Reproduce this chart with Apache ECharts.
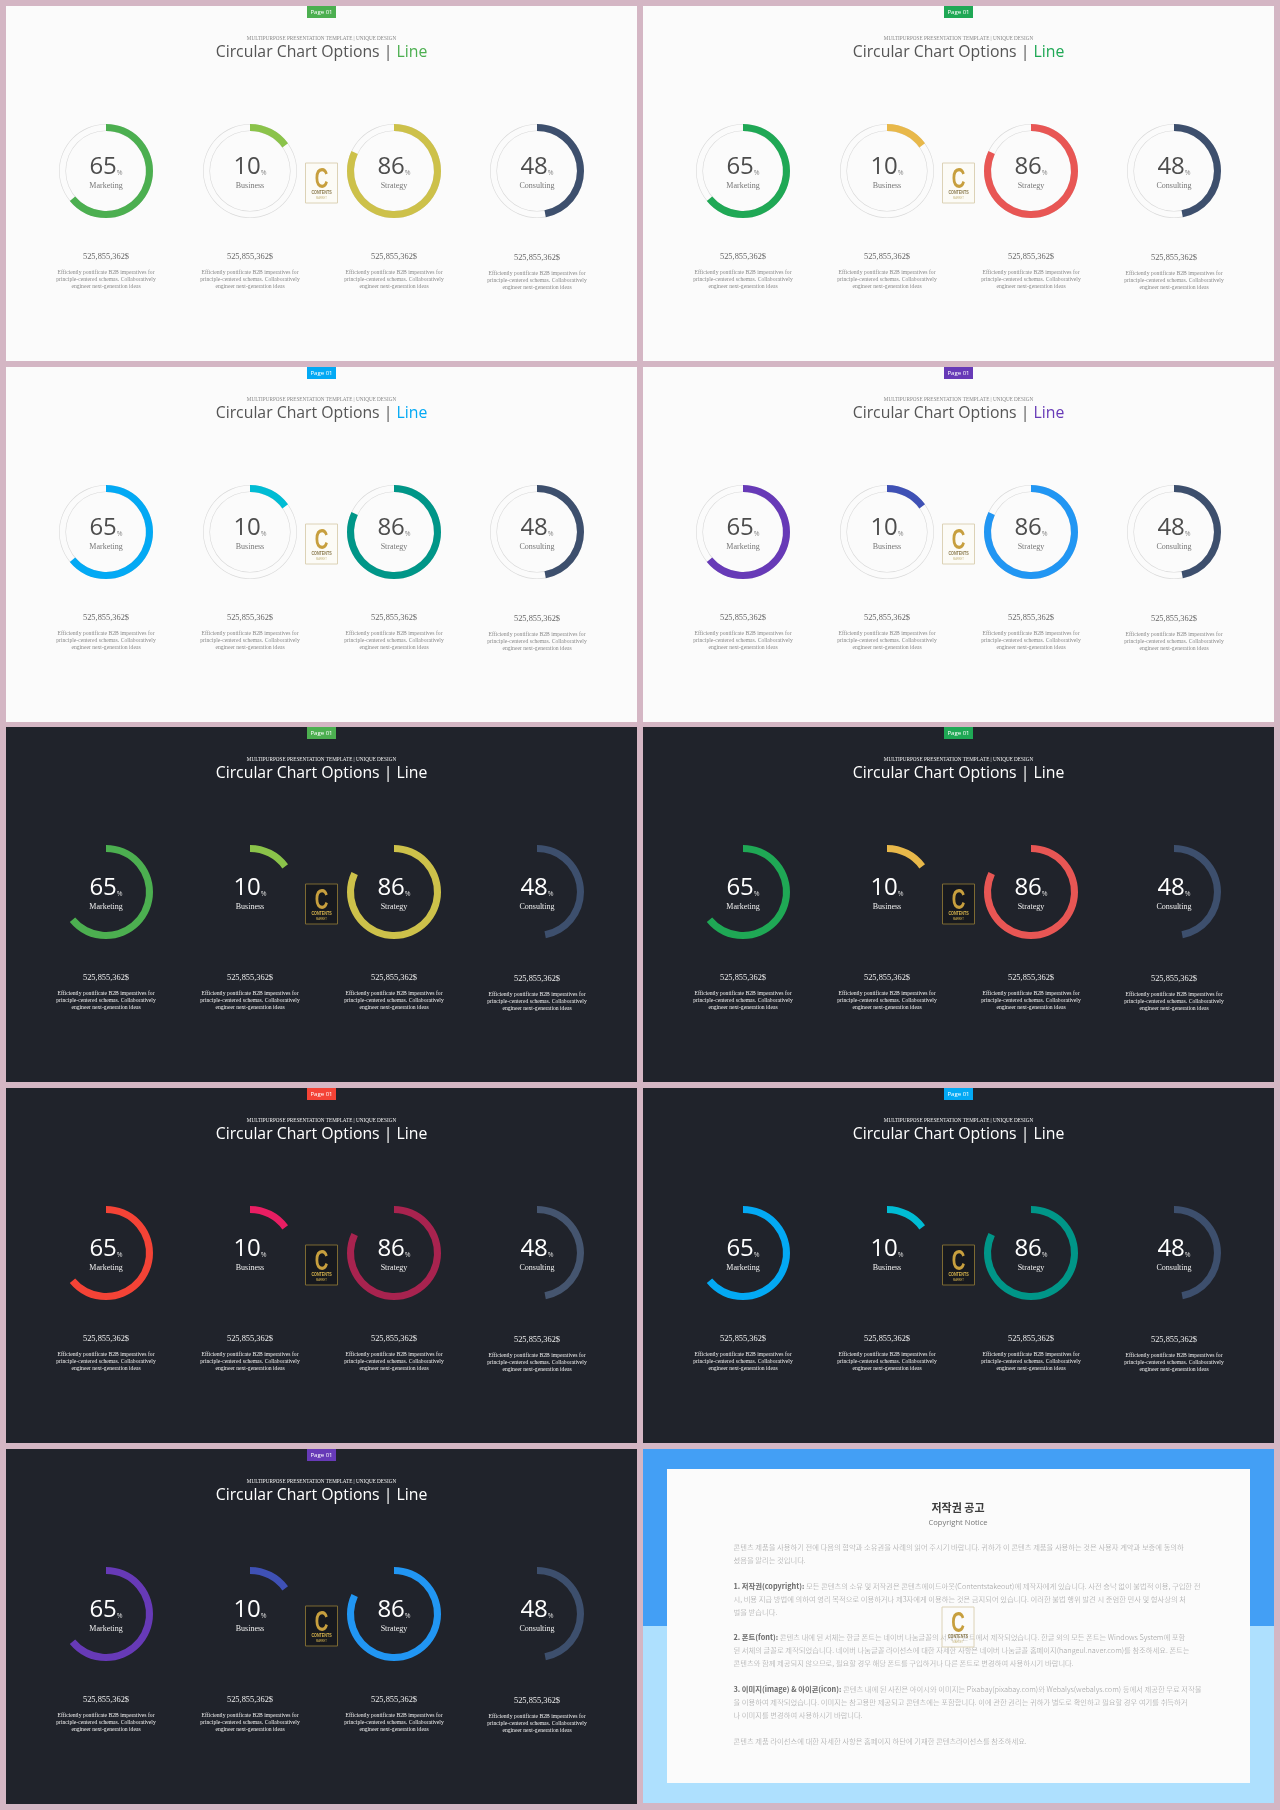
<!DOCTYPE html>
<html>
<head>
<meta charset="utf-8">
<style>
    html, body { margin: 0; padding: 0; background: #d4b6c4; }
    #main { width: 1280px; height: 1810px; }
</style>
<script src="https://cdn.jsdelivr.net/npm/echarts@6/dist/echarts.min.js"></script>
</head>
<body>
<div id="main"></div>
<script>
var categories = ['Marketing', 'Business', 'Strategy', 'Consulting'];
var values = [65, 10, 86, 48];
// the arcs in the picture do not follow their captions exactly, these are read off the rings
var arcValues = [64, 15, 82, 47];
var amounts = ['525,855,362$', '525,855,362$', '525,855,362$', '525,855,362$'];
var descLines = [
    'Efficiently pontificate B2B imperatives for',
    'principle-centered schemas. Collaboratively',
    'engineer next-generation ideas'
];
var subTitle = 'MULTIPURPOSE PRESENTATION TEMPLATE | UNIQUE DESIGN';
var titleMain = 'Circular Chart Options | ';
var titleLine = 'Line';
var pageLabel = 'Page 01';

// colours of the slides, one row = marketing, business, strategy, consulting, badge
var greenColors = ['#4caf50', '#8bc34a', '#cdc14a', '#3d4f6d', '#4caf50'];
var emeraldColors = ['#1fa855', '#e8b84a', '#e85654', '#3d4f6d', '#1fa855'];
var blueColors = ['#03a9f4', '#00bcd4', '#009688', '#3d4f6d', '#03a9f4'];
var purpleColors = ['#673ab7', '#3f51b5', '#2196f3', '#3d4f6d', '#673ab7'];
var redColors = ['#f44336', '#e91e63', '#a8234f', '#45556f', '#f44336'];

var noticeTitle = '저작권 공고';
var noticeSub = 'Copyright Notice';
var noticeLines = [
    ['', '콘텐츠 제품을 사용하기 전에 다음의 협약과 소유권을 사례의 읽어 주시기 바랍니다. 귀하가 이 콘텐츠 제품을 사용하는 것은 사용자 계약과 보증에 동의하'],
    ['', '셨음을 알리는 것입니다.'],
    null,
    ['1. 저작권(copyright):', ' 모든 콘텐츠의 소유 및 저작권은 콘텐츠에이드아웃(Contentstakeout)에 제작자에게 있습니다. 사전 승낙 없이 불법적 이용, 구입한 전'],
    ['', '시, 비용 지급 방법에 의하여 영리 목적으로 이용하거나 제3자에게 이용하는 것은 금지되어 있습니다. 이러한 불법 행위 발견 시 준엄한 민사 및 형사상의 처'],
    ['', '벌을 받습니다.'],
    null,
    ['2. 폰트(font):', ' 콘텐츠 내에 된 서체는 한글 폰트는 네이버 나눔글꼴의 서체와 폰트에서 제작되었습니다. 한글 외의 모든 폰트는 Windows System에 포함'],
    ['', '된 서체의 글꼴로 제작되었습니다. 네이버 나눔글꼴 라이선스에 대한 자세한 사항은 네이버 나눔글꼴 홈페이지(hangeul.naver.com)를 참조하세요. 폰트는'],
    ['', '콘텐츠와 함께 제공되지 않으므로, 필요할 경우 해당 폰트를 구입하거나 다른 폰트로 변경하여 사용하시기 바랍니다.'],
    null,
    ['3. 이미지(image) & 아이콘(icon):', ' 콘텐츠 내에 된 사진은 아이시와 이미지는 Pixabay(pixabay.com)와 Webalys(webalys.com) 등에서 제공한 무료 저작물'],
    ['', '을 이용하여 제작되었습니다. 이미지는 참고용만 제공되고 콘텐츠에는 포함합니다. 이에 관한 권리는 귀하가 별도로 확인하고 필요할 경우 여기를 취득하거'],
    ['', '나 이미지를 변경하여 사용하시기 바랍니다.'],
    null,
    ['', '콘텐츠 제품 라이선스에 대한 자세한 사항은 홈페이지 하단에 기재한 콘텐츠라이선스를 참조하세요.']
];

var panels = [
    { x: 6, y: 6, dark: false, colors: greenColors },
    { x: 643, y: 6, dark: false, colors: emeraldColors },
    { x: 6, y: 367, dark: false, colors: blueColors },
    { x: 643, y: 367, dark: false, colors: purpleColors },
    { x: 6, y: 727, dark: true, colors: greenColors },
    { x: 643, y: 727, dark: true, colors: emeraldColors },
    { x: 6, y: 1088, dark: true, colors: redColors },
    { x: 643, y: 1088, dark: true, colors: blueColors },
    { x: 6, y: 1449, dark: true, colors: purpleColors }
];

var PANEL_W = 631;
var PANEL_H = 355;
var RING_X = [100, 244, 388, 531];
var RING_Y = 165;
var SERIF = '"Liberation Serif", serif';
var SANS = '"Open Sans", sans-serif';
var KR = '"Noto Sans CJK KR", sans-serif';

var myChart = echarts.init(document.getElementById('main'), null, { renderer: 'canvas' });
var series = [];
var graphics = [];

function addText(x, y, text, font, size, color, extra) {
    graphics.push({
        type: 'text',
        x: x,
        y: y,
        silent: true,
        z: (extra && extra.z) || 5,
        style: Object.assign({
            text: text,
            font: size + 'px ' + font,
            fill: color,
            align: 'center',
            verticalAlign: 'middle'
        }, extra && extra.style)
    });
}

function addLogo(cx, top, mode) {
    var isDark = mode === 'dark';
    graphics.push({
        type: 'rect',
        silent: true,
        z: 6,
        shape: { x: cx - 16, y: top, width: 32, height: 40 },
        style: {
            fill: isDark ? '#17191e' : (mode === 'clear' ? 'rgba(255,255,255,0.15)' : '#fcfbf6'),
            stroke: isDark ? '#7d6a32' : '#dcd2b6',
            lineWidth: 1
        }
    });
    graphics.push({
        type: 'text', silent: true, z: 7, x: cx, y: top + 17, scaleX: 0.65,
        style: { text: 'C', font: 'bold 29px "Liberation Sans", sans-serif', fill: '#c79f3e', align: 'center', verticalAlign: 'middle' }
    });
    graphics.push({
        type: 'text', silent: true, z: 7, x: cx, y: top + 30, scaleX: 0.8,
        style: { text: 'CONTENTS', font: 'bold 4.6px "Liberation Sans", sans-serif', fill: isDark ? '#d9b54e' : '#8a7a4e', align: 'center', verticalAlign: 'middle' }
    });
    graphics.push({
        type: 'text', silent: true, z: 7, x: cx, y: top + 35,
        style: { text: 'MARKET', font: '2.6px "Liberation Sans", sans-serif', fill: isDark ? '#d9b54e' : '#c8b880', align: 'center', verticalAlign: 'middle' }
    });
}

panels.forEach(function (p) {
    var textColor = p.dark ? '#ffffff' : '#555555';
    var softColor = p.dark ? '#f0f0f0' : '#8a8a8a';
    graphics.push({
        type: 'rect',
        silent: true,
        z: 1,
        shape: { x: p.x, y: p.y, width: PANEL_W, height: PANEL_H },
        style: { fill: p.dark ? '#20232b' : '#fbfbfb' }
    });
    // page badge
    graphics.push({
        type: 'rect',
        silent: true,
        z: 2,
        shape: { x: p.x + 301, y: p.y, width: 29, height: 12 },
        style: { fill: p.colors[4] }
    });
    addText(p.x + 315.5, p.y + 6, pageLabel, SANS, 6, '#ffffff');
    addText(p.x + 315.5, p.y + 32.5, subTitle, SERIF, 5.2, softColor);
    addText(p.x + 315.5, p.y + 46, '{a|' + titleMain + '}{b|' + titleLine + '}', SANS, 15.8, textColor, {
        style: {
            rich: {
                a: { font: '15.8px ' + SANS, fill: textColor },
                b: { font: '15.8px ' + SANS, fill: p.dark ? '#ffffff' : p.colors[4] }
            }
        }
    });

    addLogo(p.x + 315.5, p.y + 157, p.dark ? 'dark' : 'light');

    categories.forEach(function (name, i) {
        var center = [p.x + RING_X[i], p.y + RING_Y];
        if (!p.dark) {
            [[46.4, 47], [40, 40.6]].forEach(function (r) {
                series.push({
                    type: 'pie',
                    silent: true,
                    z: 3,
                    animation: false,
                    center: center,
                    radius: r,
                    label: { show: false },
                    labelLine: { show: false },
                    emphasis: { disabled: true },
                    itemStyle: { color: '#d9d9d9' },
                    data: [{ value: 100 }]
                });
            });
        }
        series.push({
            type: 'pie',
            silent: true,
            z: 4,
            animation: false,
            center: center,
            radius: [40, 47],
            startAngle: 90,
            clockwise: true,
            emphasis: { disabled: true },
            labelLine: { show: false },
            label: { show: false },
            data: [
                {
                    name: name,
                    value: arcValues[i],
                    itemStyle: { color: p.colors[i] },
                    label: {
                        show: true,
                        position: 'center',
                        offset: [0, 1.2],
                        formatter: '{num|' + values[i] + '}{pct|%}\n{name|{b}}',
                        rich: {
                            num: { fontFamily: SANS, fontSize: 24, color: p.dark ? '#ffffff' : '#4d4d4d', height: 28, lineHeight: 28, verticalAlign: 'bottom' },
                            pct: { fontFamily: SANS, fontSize: 7, color: p.dark ? '#dddddd' : '#888888', verticalAlign: 'bottom', padding: [0, 0, 4, 0] },
                            name: { fontFamily: SERIF, fontSize: 8, color: p.dark ? '#eeeeee' : '#777777', height: 10.8, lineHeight: 10.8, align: 'center' }
                        }
                    }
                },
                { name: 'rest', value: 100 - arcValues[i], itemStyle: { color: 'transparent' } }
            ]
        });
        var dy = i === 3 ? 0.7 : 0;
        addText(p.x + RING_X[i], p.y + 250.7 + dy, amounts[i], SERIF, 8.4, p.dark ? '#eeeeee' : '#666666');
        descLines.forEach(function (line, j) {
            addText(p.x + RING_X[i], p.y + 266.7 + j * 7.1 + dy, line, SERIF, 5.65, p.dark ? '#eeeeee' : '#8a8a8a');
        });
    });
});

// last slide: the copyright notice
var NX = 643;
var NY = 1449;
graphics.push({ type: 'rect', silent: true, z: 1, shape: { x: NX, y: NY, width: PANEL_W, height: 177 }, style: { fill: '#439ff5' } });
graphics.push({ type: 'rect', silent: true, z: 1, shape: { x: NX, y: NY + 177, width: PANEL_W, height: 177 }, style: { fill: '#aee0fe' } });
graphics.push({ type: 'rect', silent: true, z: 2, shape: { x: 667, y: 1469, width: 583, height: 314 }, style: { fill: '#fbfbfb' } });
addText(958, 1508, noticeTitle, KR, 11, '#3c3c3c', { style: { font: 'bold 11px ' + KR } });
addText(958, 1523, noticeSub, SANS, 7.6, '#777777');
noticeLines.forEach(function (line, i) {
    if (!line) {
        return;
    }
    graphics.push({
        type: 'text',
        silent: true,
        z: 5,
        x: 733.5,
        y: 1547 + i * 12.95,
        style: {
            text: (line[0] ? '{b|' + line[0] + '}' : '') + '{a|' + line[1] + '}',
            align: 'left',
            verticalAlign: 'middle',
            rich: {
                a: { font: '300 7.3px ' + KR, fill: '#a0a0a0' },
                b: { font: 'bold 7.3px ' + KR, fill: '#6a6a6a' }
            }
        }
    });
});
addLogo(958, 1607, 'clear');

myChart.setOption({
    backgroundColor: '#d4b6c4',
    animation: false,
    tooltip: { show: false },
    graphic: { elements: graphics },
    series: series
});
window.addEventListener('resize', function () {
    myChart.resize();
});
</script>
</body>
</html>
